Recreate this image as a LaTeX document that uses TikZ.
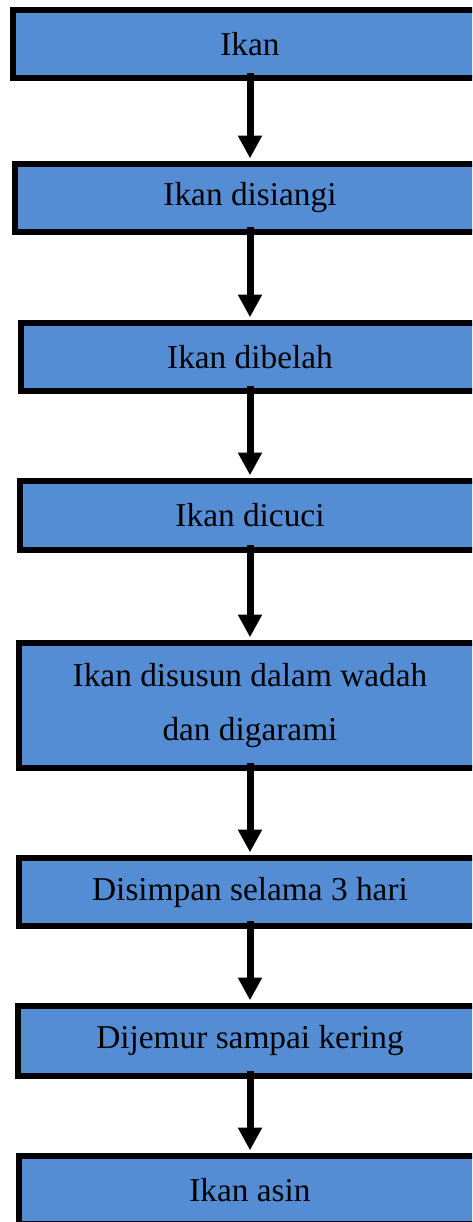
\documentclass[tikz,border=0pt]{standalone}
\usepackage{fontspec}
\setmainfont{Liberation Serif}
\usetikzlibrary{arrows.meta}
\definecolor{stepblue}{RGB}{84,141,212}

\begin{document}
\begin{tikzpicture}[
		x=0.75pt, y=-0.75pt,
		% Styles
		stepbox/.style 2 args={draw=black, line width=4.5pt, fill=stepblue,
				rectangle, anchor=north, align=center,
				font=\fontsize{25}{41}\selectfont,
				minimum width=#1*0.75pt, minimum height=#2*0.75pt},
		flow/.style={line width=5.25pt, -{Triangle[length=17pt,width=17pt]},
				shorten <=-6pt, shorten >=2pt}
	]

	% --- 1. BIDANG GAMBAR ---
	\useasboundingbox (0,0) rectangle (472,1222);
	\clip (0,0) rectangle (472,1222);
	\def\ax{250}

	% --- 2. LANGKAH-LANGKAH ---
	\node[stepbox={475}{68}] (ikan) at (\ax,7) {Ikan};
	\node[stepbox={471}{68}] (disiangi) at (\ax,161) {Ikan disiangi};
	\node[stepbox={458}{68}] (dibelah) at (\ax,320) {Ikan dibelah};
	\node[stepbox={460}{68.5}] (dicuci) at (\ax,478) {Ikan dicuci};
	\node[stepbox={462}{125}] (disusun) at (\ax,640) {Ikan disusun dalam wadah \\ dan digarami};
	\node[stepbox={462}{68}] (disimpan) at (\ax,855) {Disimpan selama 3 hari};
	\node[stepbox={464}{69.5}] (dijemur) at (\ax,1003) {Dijemur sampai kering};
	\node[stepbox={462}{68}] (asin) at (\ax,1153) {Ikan asin};

	% --- 3. PANAH ---
	\foreach \a/\b in {ikan/disiangi, disiangi/dibelah, dibelah/dicuci,
			dicuci/disusun, disusun/disimpan, disimpan/dijemur, dijemur/asin} {
			\draw[flow] (\a.south) -- (\b.north);
		}

\end{tikzpicture}
\end{document}
